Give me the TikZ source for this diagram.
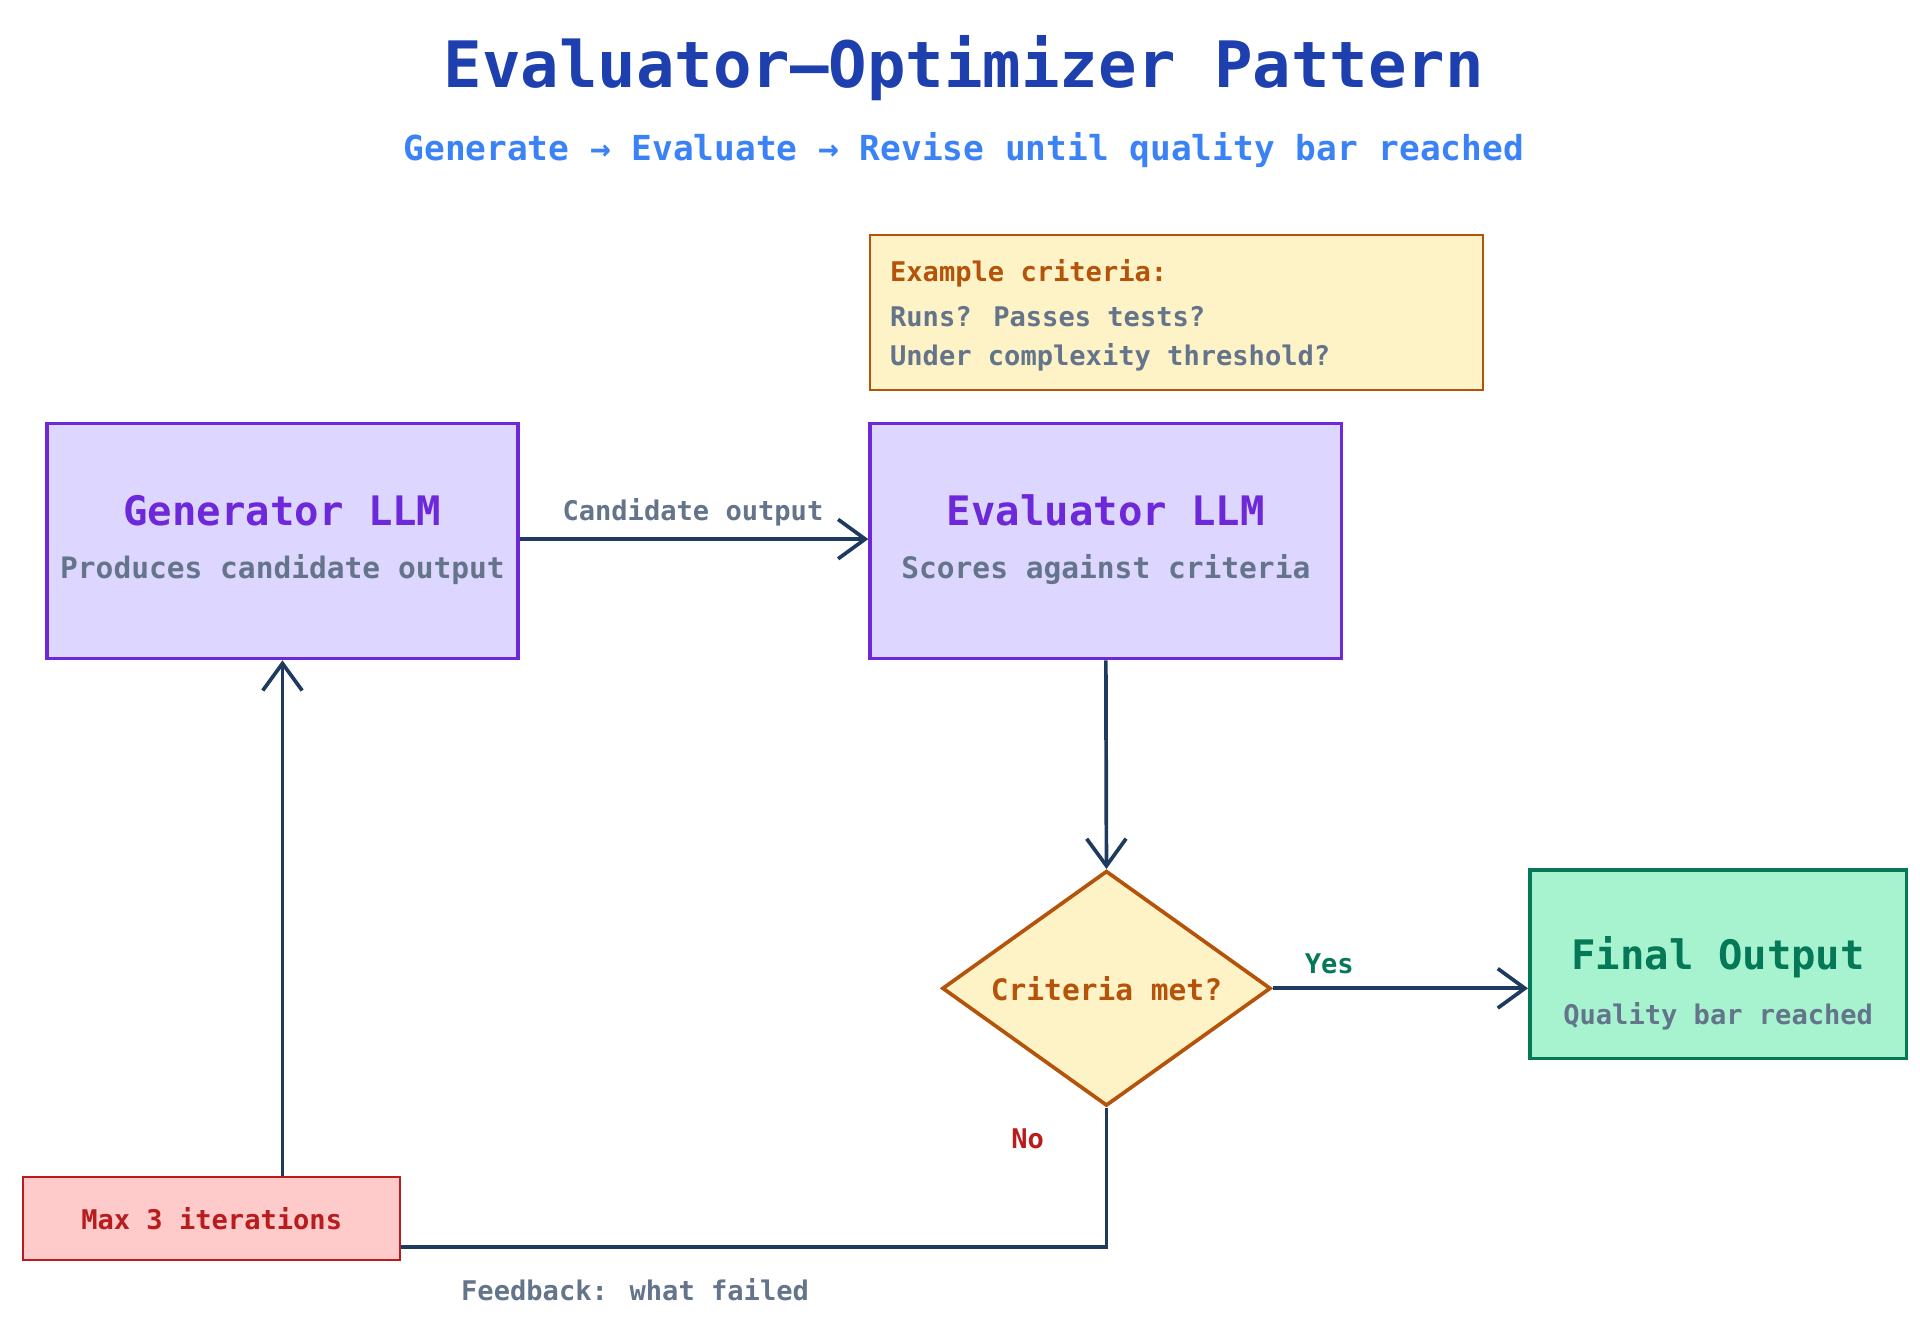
\documentclass[tikz,border=0pt]{standalone}
\usepackage{fontspec}
\setmainfont{DejaVu Sans Mono}
\usetikzlibrary{arrows.meta,shapes.geometric}
\definecolor{titleblue}{RGB}{30,64,175}
\definecolor{subblue}{RGB}{59,130,246}
\definecolor{flow}{RGB}{30,58,95}
\definecolor{note}{RGB}{100,116,139}
\definecolor{llmfill}{RGB}{221,214,254}
\definecolor{llmdraw}{RGB}{109,40,217}
\definecolor{critfill}{RGB}{254,243,199}
\definecolor{critdraw}{RGB}{180,83,9}
\definecolor{okfill}{RGB}{167,243,208}
\definecolor{okdraw}{RGB}{4,120,87}
\definecolor{maxfill}{RGB}{254,202,202}
\definecolor{maxdraw}{RGB}{185,28,28}

\begin{document}
\begin{tikzpicture} [
    x=1pt, y=-1pt,
    every node/.append style={align=center, inner sep=0pt},
    llm/.style={draw=llmdraw, fill=llmfill, line width=3pt},
    flow arrow/.style={draw=flow, line width=3pt, -{Straight Barb[length=22pt, width=32pt, line width=3pt]}},
    small note/.style={font=\fontsize{22}{26}\selectfont\bfseries, text=note}
  ]

  \useasboundingbox (0,0) rectangle (1560,1080);

  \node [font=\fontsize{52}{60}\selectfont\bfseries, text=titleblue] (title) at (783,55) {Evaluator–Optimizer Pattern};
  \node [font=\fontsize{28}{34}\selectfont\bfseries, text=subblue] (subtitle) at (783,122) {Generate → Evaluate → Revise until quality bar reached};

  % criteria note
  \draw [draw=critdraw, fill=critfill, line width=1.5pt] (707,191) rectangle (1205,317);
  \node [anchor=west, font=\fontsize{22}{26}\selectfont\bfseries, text=critdraw] (crit) at (723,222) {Example criteria:};
  \node [anchor=west, small note] (crit1) at (723,257) {Runs? Passes tests?};
  \node [anchor=west, small note] (crit2) at (723,290) {Under complexity threshold?};

  % boxes
  \node [llm, minimum width=383pt, minimum height=191pt] (gen) at (229.5,439.5) {};
  \node [font=\fontsize{33}{38}\selectfont\bfseries, text=llmdraw] at (229.5,415) {Generator LLM};
  \node [font=\fontsize{24}{28}\selectfont\bfseries, text=note] at (229.5,463) {Produces candidate output};

  \node [llm, minimum width=383pt, minimum height=191pt] (eval) at (898.5,439.5) {};
  \node [font=\fontsize{33}{38}\selectfont\bfseries, text=llmdraw] at (898.5,415) {Evaluator LLM};
  \node [font=\fontsize{24}{28}\selectfont\bfseries, text=note] at (898.5,463) {Scores against criteria};

  \node [diamond, aspect=1.4, draw=critdraw, fill=critfill, line width=3pt, minimum width=267pt, minimum height=191pt,
         font=\fontsize{24}{28}\selectfont\bfseries, text=critdraw] (check) at (899,803) {Criteria met?};

  \node [draw=okdraw, fill=okfill, line width=3pt, minimum width=306pt, minimum height=153pt] (final) at (1396,783.5) {};
  \node [font=\fontsize{33}{38}\selectfont\bfseries, text=okdraw] at (1396,778) {Final Output};
  \node [font=\fontsize{22}{26}\selectfont\bfseries, text=note] at (1396,826) {Quality bar reached};

  \node [draw=maxdraw, fill=maxfill, line width=1.5pt, minimum width=306pt, minimum height=68pt,
         font=\fontsize{22}{26}\selectfont\bfseries, text=maxdraw] (max) at (172,990) {Max 3 iterations};

  % connectors
  \path [flow arrow] (gen.east |- 0,438) -- (eval.west |- 0,438);
  \node [small note] at (563,416) {Candidate output};
  \path [flow arrow] (eval.south) -- (check.north);
  \path [flow arrow] (check.east) -- (final.west |- check.east);
  \node [font=\fontsize{22}{26}\selectfont\bfseries, text=okdraw] at (1080,783) {Yes};
  \coordinate (corner) at (899,1013);
  \draw [draw=flow, line width=3pt] (check.south) -- (corner) -- (max.east |- corner);
  \node [font=\fontsize{22}{26}\selectfont\bfseries, text=maxdraw] at (835,925) {No};
  \node [small note] at (516,1048) {Feedback: what failed};
  \path [flow arrow] (max.north -| gen.south) -- (gen.south);
\end{tikzpicture}
\end{document}
